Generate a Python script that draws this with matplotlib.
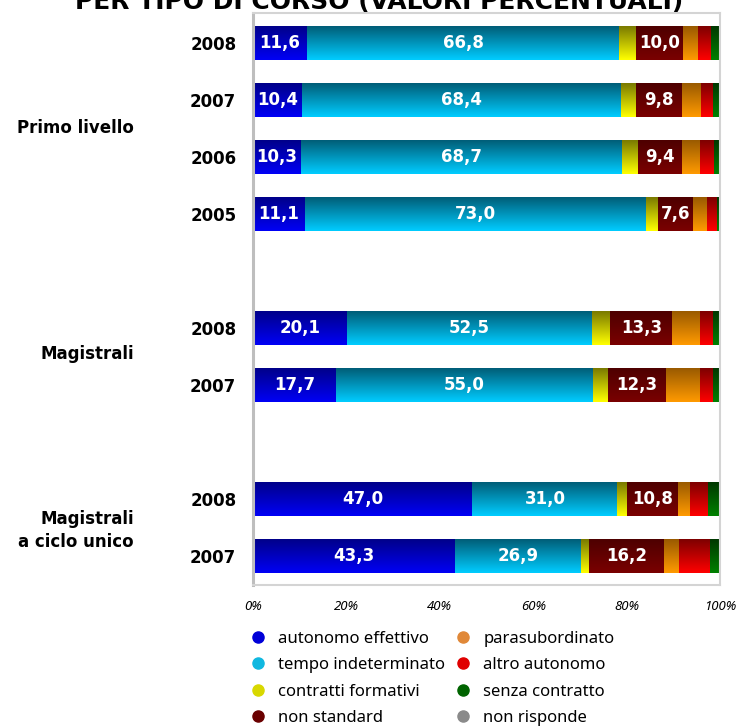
import numpy as np
import matplotlib
matplotlib.use("Agg")
import matplotlib.pyplot as plt
from matplotlib.colors import LinearSegmentedColormap
from matplotlib.lines import Line2D
from matplotlib import transforms

plt.rcParams['font.family'] = ['Noto Sans', 'DejaVu Sans']
BOLD = ['DejaVu Sans']

# ---- data ----
title = "PER TIPO DI CORSO (VALORI PERCENTUALI)"
years = ["2008", "2007", "2006", "2005", "2008", "2007", "2008", "2007"]
positions = [0, 1, 2, 3, 5, 6, 8, 9]
groups = ["Primo livello", "Magistrali", "Magistrali\na ciclo unico"]
group_pos = [1.5, 5.45, 8.55]

series = ["autonomo effettivo", "tempo indeterminato", "contratti formativi",
          "non standard", "parasubordinato", "altro autonomo",
          "senza contratto", "non risponde"]
autonomo_effettivo  = [11.6, 10.4, 10.3, 11.1, 20.1, 17.7, 47.0, 43.3]
tempo_indeterminato = [66.8, 68.4, 68.7, 73.0, 52.5, 55.0, 31.0, 26.9]
contratti_formativi = [3.6, 3.2, 3.4, 2.6, 3.9, 3.4, 2.1, 1.7]
non_standard        = [10.0, 9.8, 9.4, 7.6, 13.3, 12.3, 10.8, 16.2]
parasubordinato     = [3.2, 4.1, 3.9, 3.0, 6.0, 7.3, 2.6, 3.2]
altro_autonomo      = [2.8, 2.6, 3.0, 2.1, 2.6, 2.8, 3.9, 6.6]
senza_contratto     = [2.0, 1.5, 1.3, 0.5, 1.6, 1.5, 2.6, 2.0]
non_risponde        = [0.0, 0.0, 0.0, 0.1, 0.0, 0.0, 0.0, 0.1]
values = [autonomo_effettivo, tempo_indeterminato, contratti_formativi,
          non_standard, parasubordinato, altro_autonomo, senza_contratto,
          non_risponde]
labelled = [0, 1, 3]
xticks = [0, 20, 40, 60, 80, 100]
xticklabels = ["0%", "20%", "40%", "60%", "80%", "100%"]

# gradient colours (top, bottom) and legend colour
grad = [("#00008A", "#0000F5"), ("#005E78", "#00CCFF"), ("#7A7A00", "#FFFF00"),
        ("#4E0000", "#7A0000"), ("#9A5A00", "#FF9A00"), ("#7E0000", "#FF0000"),
        ("#003800", "#008000"), ("#505050", "#C0C0C0")]
legend_cols = ["#0000D8", "#10B8E0", "#D8D800", "#6A0000", "#E08838",
               "#E00000", "#006400", "#8A8A8A"]

W, H = 738, 727
fig = plt.figure(figsize=(W / 100, H / 100), dpi=100)
ax = fig.add_axes([253 / W, 1 - 585 / H, 467 / W, 572 / H])

bar_h = 0.58
left = np.zeros(len(positions))
containers = []
for i, vals in enumerate(values):
    c = ax.barh(positions, vals, left=left, height=bar_h, color=grad[i][1],
                zorder=2, linewidth=0)
    containers.append(c)
    cmap = LinearSegmentedColormap.from_list(f"g{i}", [grad[i][0], grad[i][1]])
    g = np.linspace(0, 1, 64).reshape(-1, 1)
    for p in c.patches:
        if p.get_width() <= 0:
            continue
        x0, y0 = p.get_x(), p.get_y()
        im = ax.imshow(g, cmap=cmap, aspect='auto', origin='upper',
                       extent=(x0, x0 + p.get_width(), y0 + p.get_height(), y0),
                       zorder=2.1, interpolation='bilinear')
        im.set_clip_path(p)
    left = left + np.array(vals)

for i in labelled:
    ax.bar_label(containers[i],
                 labels=[f"{v:.1f}".replace('.', ',') for v in values[i]],
                 label_type='center', color='white', fontweight='bold',
                 family=BOLD, fontsize=12, zorder=5)

ax.set_xlim(0, 100)
ax.set_ylim(9.509, -0.526)
ax.set_yticks(positions)
ax.set_yticklabels(years, fontweight='bold', fontsize=12, family=BOLD)
ax.tick_params(axis='y', length=0, pad=12)
ax.set_xticks(xticks)
ax.set_xticklabels(xticklabels, fontstyle='italic', fontsize=9.5)
ax.tick_params(axis='x', length=0, pad=11)

for s in ['top', 'right', 'bottom']:
    ax.spines[s].set_color('#D4D4D4')
    ax.spines[s].set_linewidth(1.5)
ax.spines['left'].set_color('#BEBEBE')
ax.spines['left'].set_linewidth(2.2)

tr = transforms.blended_transform_factory(fig.transFigure, ax.transData)
for gname, gp in zip(groups, group_pos):
    ax.text(134 / W, gp, gname, transform=tr, ha='right', va='center',
            fontweight='bold', family=BOLD, fontsize=12,
            multialignment='right', linespacing=1.35)

fig.text(379 / W, 1 - 9 / H, title, ha='center', va='baseline',
         fontweight='bold', family=BOLD, fontsize=18)

handles = [Line2D([], [], linestyle='none', marker='o', markersize=8,
                  markerfacecolor=c, markeredgecolor=c) for c in legend_cols]
fig.legend(handles, series, loc='upper left', ncol=2,
           bbox_to_anchor=(248 / W, 1 - 631 / H), frameon=False,
           fontsize=12, handletextpad=0.6, columnspacing=0.5,
           labelspacing=0.62, borderaxespad=0, borderpad=0, handlelength=1.2)

fig.savefig("out.png", dpi=100)
